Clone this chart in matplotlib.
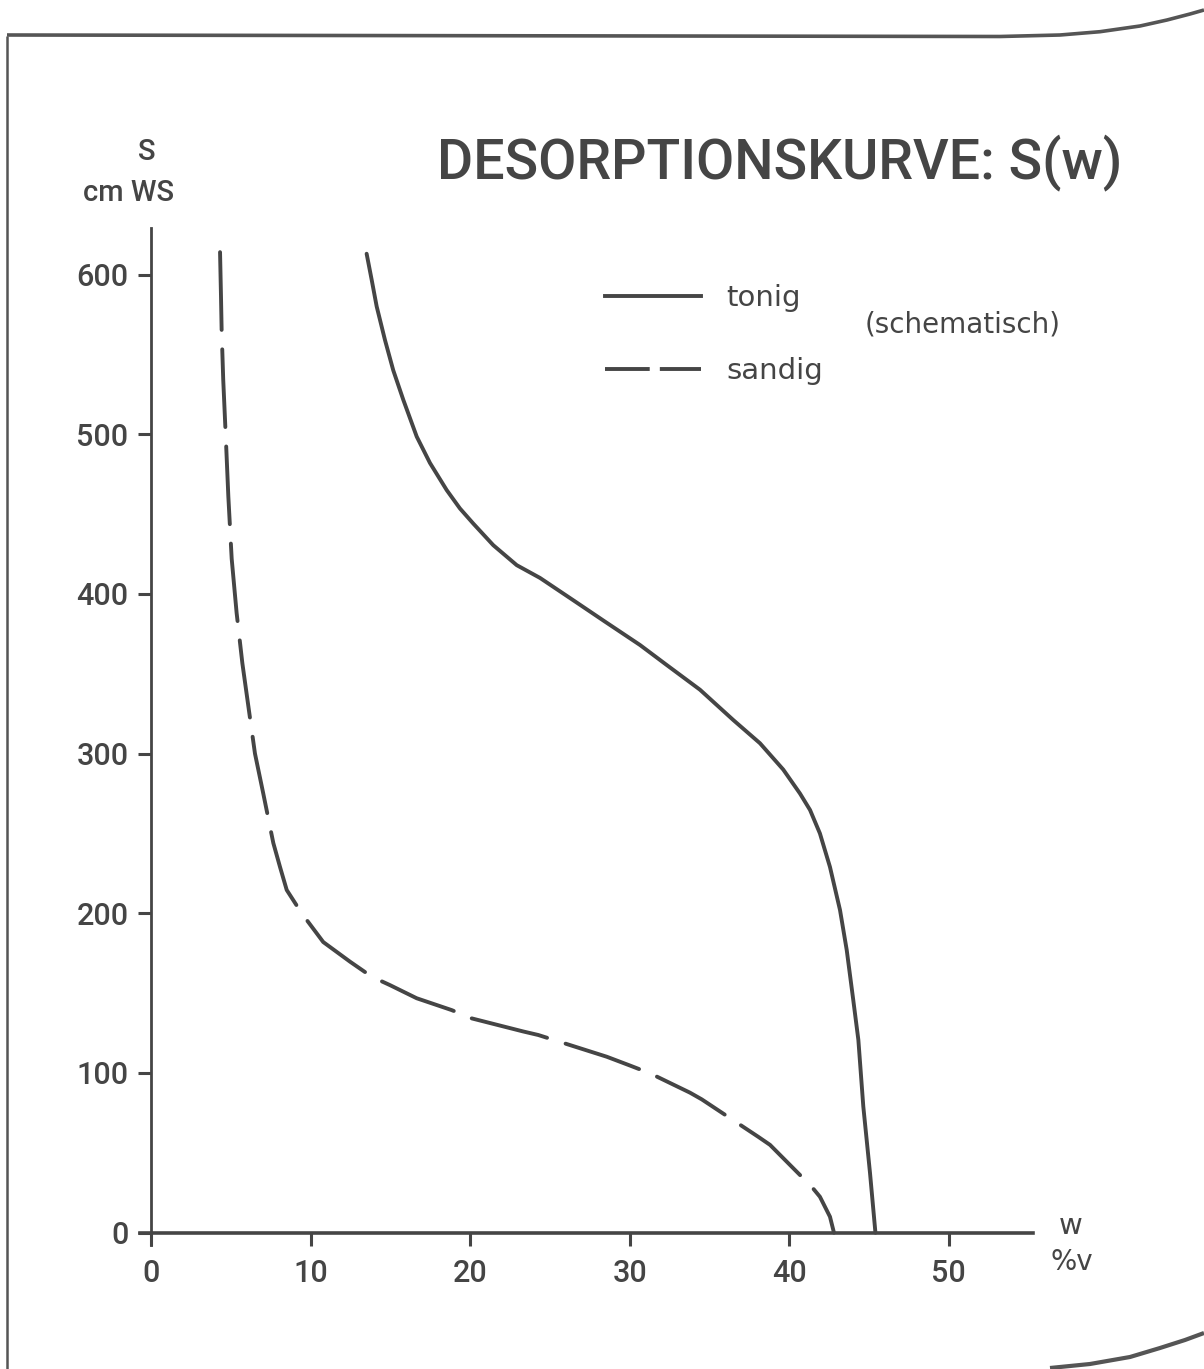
import matplotlib
matplotlib.use("Agg")
import matplotlib.pyplot as plt
from matplotlib.lines import Line2D

# data (w in %v, S in cm WS)
tonig_w = [13.50, 13.82, 14.13, 14.65, 15.17, 15.80, 16.64, 17.47, 18.52, 19.35,
           20.19, 21.44, 22.91, 24.37, 26.46, 28.45, 30.64, 32.31, 34.40, 36.49,
           38.16, 39.62, 40.67, 41.30, 41.92, 42.55, 43.18, 43.60, 44.01, 44.33,
           44.64, 45.06, 45.40]
tonig_s = [613, 596.5, 580, 559, 540, 521.5, 498.5, 482, 465, 453.5,
           444, 430.5, 418, 410, 396, 382.6, 368, 355.5, 340, 321,
           306.5, 290, 275, 264.7, 250, 229, 202, 177, 145.7, 120.7,
           79, 37.4, 0]

sandig_w = [4.31, 4.37, 4.41, 4.51, 4.68, 4.83, 5.04, 5.35, 5.71, 6.29,
            6.50, 7.02, 7.65, 8.07, 8.49, 9.43, 10.78, 12.46, 13.82, 14.97,
            16.64, 18.83, 20.09, 23.32, 24.26, 28.55, 30.03, 31.27, 33.77, 34.51,
            38.06, 38.79, 41.40, 41.92, 42.55, 42.80]
sandig_s = [614, 586, 565, 534, 496, 461, 422, 388, 356.5, 315,
            300, 275, 244, 229, 214.6, 200, 182, 169.7, 160.3, 155,
            146.8, 139.4, 134.2, 126, 123.8, 110.2, 104.6, 99.8, 87.7, 83.5,
            60, 55, 28.8, 22.5, 10, 0]

x_ticks = [0, 10, 20, 30, 40, 50]
y_ticks = [0, 100, 200, 300, 400, 500, 600]

INK = "#454545"
DIN = ["Roboto", "Liberation Sans", "DejaVu Sans"]
W, H = 1204, 1369


def fx(px):
    return px / W


def fy(py):
    return 1 - py / H


fig = plt.figure(figsize=(W / 100, H / 100), dpi=100)
fig.patch.set_facecolor("white")

# axes placed so that w=0 -> x 151px, 10 units = 159.5px; S=0 -> y 1233px, 100 = 159.7px
xmin, xmax = -1.5, 56
ymin, ymax = -15, 640
left = 151.3 + xmin * 15.95
right = 151.3 + xmax * 15.95
bottom = 1232.7 - ymin * 1.597
top = 1232.7 - ymax * 1.597
ax = fig.add_axes([fx(left), fy(bottom), (right - left) / W, (bottom - top) / H])
ax.set_xlim(xmin, xmax)
ax.set_ylim(ymin, ymax)
ax.patch.set_alpha(0)

ax.plot(tonig_w, tonig_s, color=INK, lw=2.8, solid_capstyle="round",
        solid_joinstyle="round")
ax.plot(sandig_w, sandig_s, color=INK, lw=2.8, dashes=(20, 5), dash_capstyle="round",
        dash_joinstyle="round")

for side in ["top", "right"]:
    ax.spines[side].set_visible(False)
ax.spines["left"].set_position(("data", 0))
ax.spines["bottom"].set_position(("data", 0))
ax.spines["left"].set_bounds(-8, 629)
ax.spines["bottom"].set_bounds(-0.7, 55.3)
ax.spines["left"].set_linewidth(2.0)
ax.spines["bottom"].set_linewidth(2.6)
ax.spines["left"].set_color(INK)
ax.spines["bottom"].set_color(INK)

ax.set_xticks(x_ticks)
ax.set_yticks(y_ticks)
ax.tick_params(axis="x", direction="out", length=9, width=2.2, color=INK, pad=10,
               labelsize=22, labelcolor=INK)
ax.tick_params(axis="y", direction="out", length=9.5, width=2.2, color=INK, pad=7,
               labelsize=22, labelcolor=INK)
for lab in ax.get_xticklabels() + ax.get_yticklabels():
    lab.set_family(DIN)
    lab.set_fontweight("medium")

# axis captions
fig.text(fx(147), fy(152), "S", ha="center", va="center", fontsize=21, color=INK,
         family=DIN, fontweight="medium")
fig.text(fx(129), fy(193), "cm WS", ha="center", va="center", fontsize=21, color=INK,
         family=DIN, fontweight="medium")
fig.text(fx(1071), fy(1226), "w", ha="center", va="center", fontsize=21, color=INK,
         family=["DejaVu Sans"])
fig.text(fx(1072), fy(1262), "%v", ha="center", va="center", fontsize=20, color=INK,
         family=["DejaVu Sans"])

# title
fig.text(fx(437), fy(163), "DESORPTIONSKURVE: S(w)", ha="left", va="center",
         fontsize=40, color=INK, family=DIN, fontweight="medium")

# legend
h1 = Line2D([], [], color=INK, lw=2.8)
h2 = Line2D([], [], color=INK, lw=2.8, dashes=(11.5, 2.6))
ax.legend([h1, h2], ["tonig", "sandig"], loc="upper left",
          bbox_to_anchor=(fx(605), fy(284)), bbox_transform=fig.transFigure,
          frameon=False, handlelength=3.3, handletextpad=0.85,
          labelspacing=1.55, borderpad=0, borderaxespad=0,
          prop={"family": "DejaVu Sans", "size": 21}, labelcolor=INK)
fig.text(fx(963), fy(325), "(schematisch)", ha="center", va="center", fontsize=20,
         color=INK, family=["DejaVu Sans"])

# page frame of the scanned sheet
frame = dict(color="#555555", transform=fig.transFigure, solid_capstyle="butt")
fig.add_artist(Line2D([fx(7), fx(7)], [fy(1369), fy(36)], lw=1.8, **frame))
top_x = [7, 1000, 1060, 1100, 1140, 1167, 1190, 1204]
top_y = [35, 36.5, 35, 31.7, 26, 20, 14, 10]
fig.add_artist(Line2D([fx(v) for v in top_x], [fy(v) for v in top_y], lw=2.6, **frame))
bot_x = [1050, 1090, 1130, 1160, 1185, 1204]
bot_y = [1368, 1364, 1357, 1348, 1340, 1333]
fig.add_artist(Line2D([fx(v) for v in bot_x], [fy(v) for v in bot_y], lw=3.0, **frame))

fig.savefig("out.png", dpi=100, facecolor="white")
